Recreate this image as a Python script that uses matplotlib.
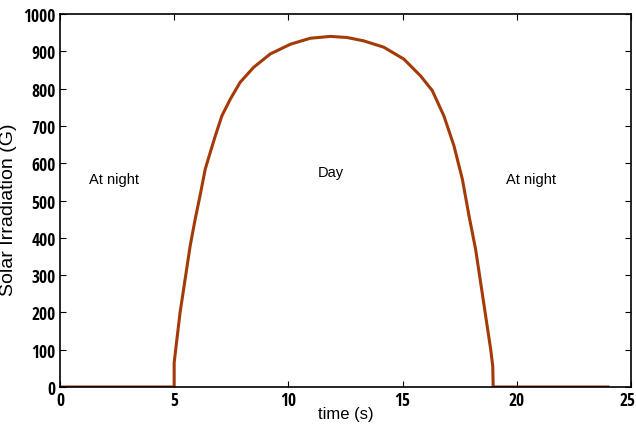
import numpy as np
import matplotlib
matplotlib.use('Agg')
import matplotlib.pyplot as plt
from matplotlib.transforms import ScaledTranslation

# values
time_s = [0, 5.0, 5.0, 5.12, 5.26, 5.48, 5.70, 5.92, 6.14, 6.36, 6.58, 6.80, 7.09,
          7.46, 7.89, 8.48, 9.21, 10.09, 10.96, 11.84, 12.57, 13.3, 14.18, 15.06,
          15.79, 16.3, 16.81, 17.25, 17.62, 17.91, 18.2, 18.42, 18.64, 18.86,
          18.95, 18.97, 24.0]
irradiation = [0, 0, 65, 128, 200, 289, 378, 450, 515, 584, 629, 673, 727,
               772, 817, 857, 893, 919, 935, 940, 937, 928, 911, 879,
               834, 795, 727, 647, 557, 459, 369, 280, 190, 101,
               56, 0, 0]

labels = ['At night', 'Day', 'At night']
label_x = [1.25, 11.3, 19.55]
label_y = [557, 576, 557]

plt.rcParams['font.family'] = ['Liberation Sans', 'DejaVu Sans']

fig = plt.figure(figsize=(6.36, 4.39), dpi=100)
ax = fig.add_axes([0.0943, 0.1162, 0.8977, 0.8496])

ax.plot(time_s, irradiation, color='#A33A08', linewidth=2.2, solid_joinstyle='round')

for txt, x, y in zip(labels, label_x, label_y):
    ax.text(x, y, txt, fontsize=10.5, va='center', ha='left')

ax.set_xlim(0, 25)
ax.set_ylim(0, 1000)
ax.set_xticks(np.arange(0, 26, 5))
ax.set_yticks(np.arange(0, 1001, 100))
ax.tick_params(direction='in', top=True, right=True, length=4, width=0.8,
               labelsize=12.5, pad=3)
# narrow bold digits like the original
for lab in ax.get_xticklabels() + ax.get_yticklabels():
    lab.set_family(['Open Sans Condensed', 'Liberation Sans'])
    lab.set_fontweight('bold')

# last x label sits on the figure edge, nudge it in a little
last = ax.get_xticklabels()[-1]
last.set_transform(last.get_transform() + ScaledTranslation(-0.035, 0, fig.dpi_scale_trans))

for sp in ax.spines.values():
    sp.set_linewidth(1.2)

ax.set_xlabel('time (s)', fontsize=12, labelpad=-2.5)
ax.set_ylabel('Solar Irradiation (G)', fontsize=14)
ax.yaxis.set_label_coords(-0.075, 0.477)

fig.savefig('out.png', dpi=100)
